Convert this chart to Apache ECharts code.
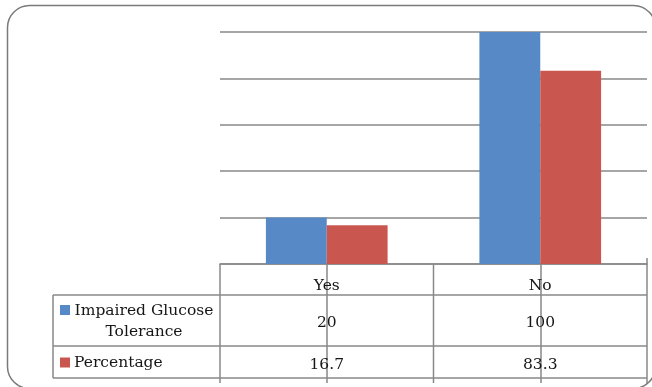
<!DOCTYPE html>
<html>
<head>
<meta charset="utf-8">
<script src="https://cdn.jsdelivr.net/npm/echarts@6/dist/echarts.min.js"></script>
<style>
  html, body { margin: 0; padding: 0; background: #fff; }
  #chart { width: 652px; height: 387px; }
</style>
</head>
<body>
<div id="chart"></div>
<script>
// Glucose tolerance outcome per group, with a data table under the axis
const categories = ['Yes', 'No'];
const glucoseCounts = [20, 100];
const percentages = [16.7, 83.3];
const seriesNames = ['Impaired Glucose Tolerance', 'Percentage'];
const legendLabels = ['Impaired Glucose\nTolerance', 'Percentage'];
const seriesColors = ['#5689c6', '#c9574f'];

const FONT = '"DejaVu Serif", "Liberation Serif", serif';
const FS = 15.5;
const LINE = '#888888';
const TEXT = '#161616';

// Plot area edges
const G = { left: 220, right: 5, top: 32, bottom: 123 };
const W = 652, H = 387;
const axisY = H - G.bottom;          // x-axis line / table top
const rowCat = axisY + 31;            // below category row
const rowOne = rowCat + 51;           // below first series row
const rowTwo = rowOne + 32;           // table bottom
const tableLeft = 53;
const plotLeft = G.left;
const plotRight = W - G.right;

const chart = echarts.init(document.getElementById('chart'), null, { renderer: 'canvas' });

const cellText = (i) =>
  '{c|' + categories[i] + '}\n{v|' + glucoseCounts[i] + '}\n{p|' + percentages[i] + '}';

const option = {
  backgroundColor: '#fff',
  animation: false,
  grid: { left: G.left, right: G.right, top: G.top, bottom: G.bottom },
  xAxis: {
    type: 'category',
    data: categories,
    axisLine: { show: true, lineStyle: { color: LINE, width: 1.7 } },
    axisTick: { show: true, alignWithLabel: true, length: 119, lineStyle: { color: LINE, width: 1.5 } },
    axisLabel: {
      margin: 0,
      formatter: (val, idx) => cellText(idx),
      rich: {
        c: { fontFamily: FONT, fontSize: FS, color: TEXT, lineHeight: 43 },
        v: { fontFamily: FONT, fontSize: FS, color: TEXT, lineHeight: 31 },
        p: { fontFamily: FONT, fontSize: FS, color: TEXT, lineHeight: 53 }
      }
    },
    splitLine: { show: false }
  },
  yAxis: {
    type: 'value',
    min: 0, max: 100, interval: 20,
    axisLine: { show: false },
    axisTick: { show: false },
    axisLabel: { show: false },
    splitLine: { show: true, lineStyle: { color: LINE, width: 1.7 } }
  },
  series: [
    {
      name: seriesNames[0], type: 'bar', data: glucoseCounts,
      itemStyle: { color: seriesColors[0] },
      barGap: '0%', barCategoryGap: '43%'
    },
    {
      name: seriesNames[1], type: 'bar', data: percentages,
      itemStyle: { color: seriesColors[1] },
      barGap: '0%', barCategoryGap: '43%'
    }
  ]
};
chart.setOption(option);

// Data table frame, legend keys and outer border
function line(x1, y1, x2, y2, w) {
  return { type: 'line', silent: true, z: 10,
    shape: { x1, y1, x2, y2 },
    style: { stroke: LINE, lineWidth: w || 1.5 } };
}
const elements = [];
// horizontal rules of the table
elements.push(line(tableLeft, rowCat, plotRight, rowCat));
elements.push(line(tableLeft, rowOne, plotRight, rowOne));
elements.push(line(tableLeft, rowTwo, plotRight, rowTwo));
// vertical rules: label column edge and category boundaries
elements.push(line(tableLeft, rowCat, tableLeft, rowTwo));
const band = (plotRight - plotLeft) / categories.length;
for (let i = 0; i <= categories.length; i++) {
  const x = plotLeft + band * i;
  elements.push(line(x, axisY - (i === categories.length ? 6 : 0), x, rowTwo + 5));
}
// legend keys with series names
const keyY = [rowCat + 10, (rowOne + rowTwo) / 2 - 4.5];
const textY = [rowCat + 26, (rowOne + rowTwo) / 2 + 1];
legendLabels.forEach((lbl, i) => {
  elements.push({ type: 'rect', silent: true, z: 11,
    shape: { x: 60, y: keyY[i], width: 10, height: 10 },
    style: { fill: seriesColors[i] } });
  const multi = lbl.indexOf('\n') >= 0;
  elements.push({ type: 'text', silent: true, z: 11,
    x: multi ? 144 : 74, y: textY[i],
    style: { text: lbl, fontFamily: FONT, fontSize: FS, fill: TEXT,
      align: multi ? 'center' : 'left', verticalAlign: 'middle', lineHeight: 21 } });
});
// rounded outer border (runs off the right and bottom edges)
elements.push({ type: 'rect', silent: true, z: 12,
  shape: { x: 7.5, y: 5.5, width: 648, height: 383, r: 22 },
  style: { fill: 'none', stroke: '#7a7a7a', lineWidth: 1.5 } });

chart.setOption({ graphic: elements });
</script>
</body>
</html>
